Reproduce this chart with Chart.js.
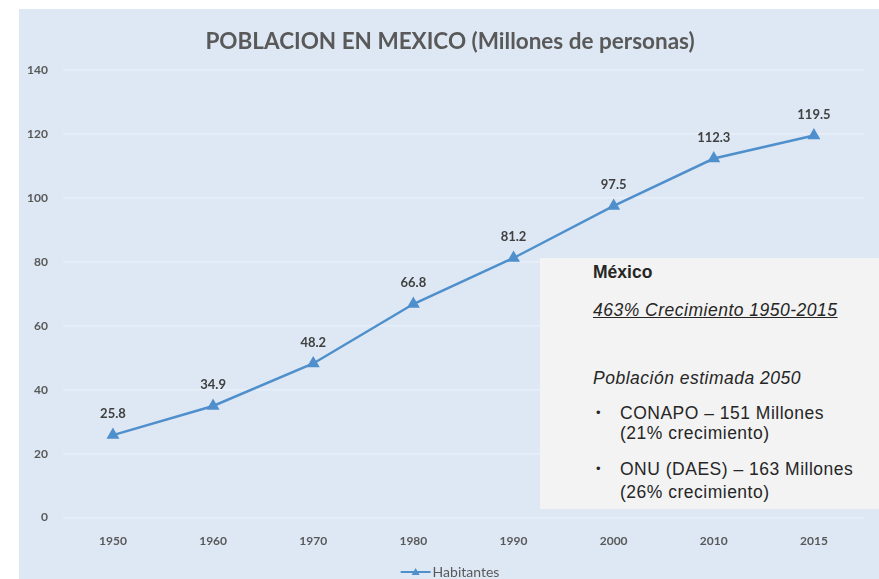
<!DOCTYPE html>
<html>
<head>
<meta charset="utf-8">
<script src="https://cdn.jsdelivr.net/npm/chart.js@4/dist/chart.umd.min.js"></script>
<style>
  html, body { margin: 0; padding: 0; background: #fff; }
  #wrap { position: relative; width: 879px; height: 579px; }
  #chart { position: absolute; left: 0; top: 0; }
  #nota {
    position: absolute; left: 540px; top: 258px; width: 339px; height: 251px;
    background: #f3f3f3; color: #262626;
    font-family: "Liberation Sans", Arial, sans-serif; font-size: 17.5px; letter-spacing: 0.5px;
  }
  #nota div { position: absolute; line-height: 20px; white-space: nowrap; }
</style>
</head>
<body>
<div id="wrap">
  <canvas id="chart" width="879" height="579"></canvas>
  <div id="nota">
    <div style="left:53px; top:4px; font-weight:bold; letter-spacing:0;">México</div>
    <div style="left:53px; top:42px; font-style:italic; text-decoration:underline;">463% Crecimiento 1950-2015</div>
    <div style="left:53px; top:110px; font-style:italic;">Población estimada 2050</div>
    <div style="left:56px; top:145px; font-size:13px;">•</div>
    <div style="left:80px; top:145px;">CONAPO – 151 Millones</div>
    <div style="left:80px; top:165px;">(21% crecimiento)</div>
    <div style="left:56px; top:201px; font-size:13px;">•</div>
    <div style="left:80px; top:201px;">ONU (DAES) – 163 Millones</div>
    <div style="left:80px; top:224px;">(26% crecimiento)</div>
  </div>
</div>
<script>
// datos
const years = ['1950', '1960', '1970', '1980', '1990', '2000', '2010', '2015'];
const habitantes = [25.8, 34.9, 48.2, 66.8, 81.2, 97.5, 112.3, 119.5];
const yTicks = [0, 20, 40, 60, 80, 100, 120, 140];
const serieNombre = 'Habitantes';
const titulo = 'POBLACION EN MEXICO (Millones de personas)';

const lineColor = '#4f8fcc';
const textGray = '#595959';

// fondo azul del area del grafico + titulo centrado en el fondo
const fondo = {
  id: 'fondo',
  beforeDraw(chart) {
    const ctx = chart.ctx;
    ctx.save();
    ctx.fillStyle = '#dde8f4';
    ctx.fillRect(19, 9, chart.width - 19, chart.height - 9);
    ctx.font = 'bold 22.5px Lato, sans-serif';
    ctx.fillStyle = textGray;
    ctx.textAlign = 'center';
    ctx.textBaseline = 'middle';
    ctx.fillText(titulo, 450, 42);
    ctx.restore();
  }
};

// etiquetas de valores sobre los puntos
const etiquetas = {
  id: 'etiquetas',
  afterDatasetsDraw(chart) {
    const ctx = chart.ctx;
    const meta = chart.getDatasetMeta(0);
    ctx.save();
    ctx.font = 'bold 13px Lato, sans-serif';
    ctx.fillStyle = '#404040';
    ctx.textAlign = 'center';
    ctx.textBaseline = 'middle';
    meta.data.forEach((pt, i) => {
      ctx.fillText(String(habitantes[i]), pt.x, pt.y - 21);
    });
    ctx.restore();
  }
};

// leyenda abajo: linea con triangulo + nombre de la serie
const leyenda = {
  id: 'leyenda',
  afterDraw(chart) {
    const ctx = chart.ctx;
    const y = 572;
    ctx.save();
    ctx.font = '14px Lato, sans-serif';
    const w = ctx.measureText(serieNombre).width;
    const x0 = 450 - (30 + 2 + w) / 2;
    ctx.strokeStyle = lineColor;
    ctx.lineWidth = 2;
    ctx.beginPath(); ctx.moveTo(x0, y); ctx.lineTo(x0 + 30, y); ctx.stroke();
    ctx.fillStyle = lineColor;
    ctx.beginPath(); ctx.moveTo(x0 + 15, y - 4); ctx.lineTo(x0 + 19, y + 3); ctx.lineTo(x0 + 11, y + 3); ctx.closePath(); ctx.fill();
    ctx.fillStyle = textGray;
    ctx.textBaseline = 'middle';
    ctx.fillText(serieNombre, x0 + 32, y);
    ctx.restore();
  }
};

new Chart(document.getElementById('chart'), {
  type: 'line',
  data: {
    labels: years,
    datasets: [{
      label: serieNombre,
      data: habitantes,
      borderColor: lineColor,
      backgroundColor: lineColor,
      borderWidth: 2.5,
      pointStyle: 'triangle',
      pointRadius: 5,
      tension: 0
    }]
  },
  options: {
    responsive: false,
    animation: false,
    layout: { padding: { left: 12, right: 15, top: 70, bottom: 15 } },
    plugins: {
      title: { display: false },
      legend: { display: false },
      tooltip: { enabled: false }
    },
    scales: {
      x: {
        offset: true,
        grid: { display: false, drawTicks: false },
        border: { display: false },
        ticks: { color: textGray, padding: 16, font: { family: 'Lato, sans-serif', size: 12, weight: 'bold' } }
      },
      y: {
        min: 0, max: 140,
        afterBuildTicks: axis => { axis.ticks = yTicks.map(v => ({ value: v })); },
        grid: { color: '#e8eff8', lineWidth: 1.5, drawTicks: false },
        border: { display: false },
        ticks: { color: textGray, padding: 15, font: { family: 'Lato, sans-serif', size: 12, weight: 'bold' } }
      }
    }
  },
  plugins: [fondo, etiquetas, leyenda]
});
</script>
</body>
</html>
